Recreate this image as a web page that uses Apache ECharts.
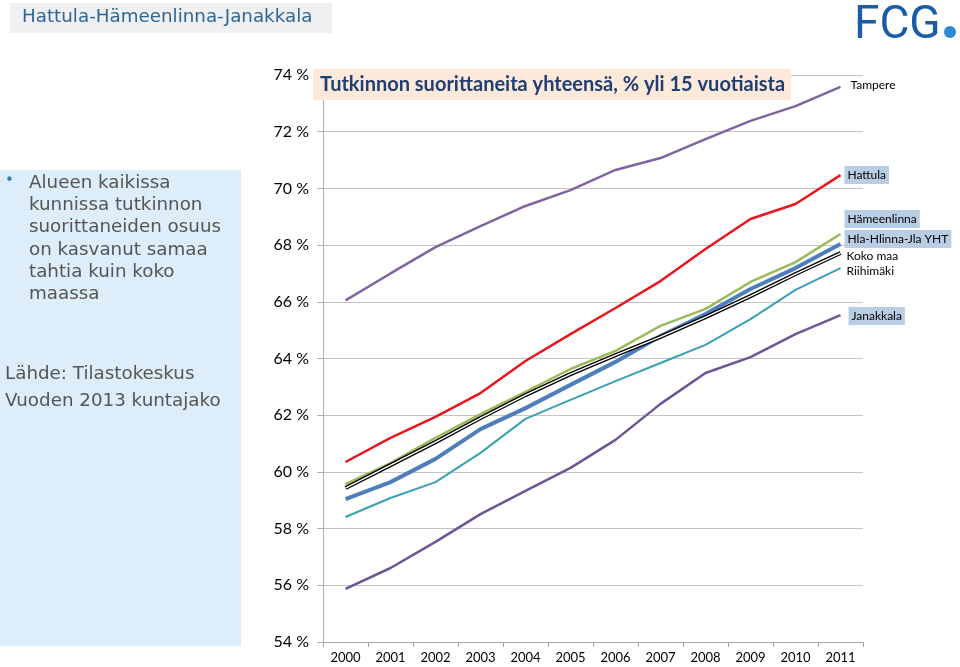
<!DOCTYPE html>
<html>
<head>
<meta charset="utf-8">
<script src="https://cdn.jsdelivr.net/npm/echarts@6/dist/echarts.min.js"></script>
<style>
html,body{margin:0;padding:0;background:#fff;}
#c{width:960px;height:667px;}
</style>
</head>
<body>
<div id="c"></div>
<script>
const years = ['2000','2001','2002','2003','2004','2005','2006','2007','2008','2009','2010','2011'];
const tampere     = [66.05, 67.0, 67.93, 68.67, 69.38, 69.94, 70.65, 71.07, 71.74, 72.38, 72.9, 73.58];
const hattula     = [60.35, 61.2, 61.94, 62.78, 63.91, 64.86, 65.78, 66.73, 67.86, 68.92, 69.45, 70.47];
const hameenlinna = [59.57, 60.31, 61.2, 62.04, 62.82, 63.63, 64.27, 65.15, 65.75, 66.7, 67.4, 68.39];
const hlaYht      = [59.04, 59.64, 60.46, 61.51, 62.25, 63.07, 63.88, 64.79, 65.57, 66.45, 67.19, 68.04];
const kokoMaa     = [59.43, 60.24, 61.05, 61.9, 62.71, 63.45, 64.12, 64.76, 65.46, 66.2, 66.98, 67.72];
const riihimaki   = [58.41, 59.08, 59.64, 60.67, 61.87, 62.54, 63.2, 63.84, 64.48, 65.39, 66.42, 67.19];
const janakkala   = [55.87, 56.61, 57.53, 58.51, 59.33, 60.14, 61.13, 62.4, 63.49, 64.05, 64.86, 65.53];
const yTicks = [54, 56, 58, 60, 62, 64, 66, 68, 70, 72, 74];

const chart = echarts.init(document.getElementById('c'));
const lblFont = 'Lato, "Open Sans", sans-serif';
const txtFont = '"DejaVu Sans", sans-serif';

function endLbl(text, dy, boxed, dx) {
  return {
    show: true,
    formatter: text,
    offset: [dx || 0, dy],
    distance: 4,
    fontFamily: lblFont,
    fontSize: 12,
    color: '#000',
    backgroundColor: boxed ? '#b9cde5' : 'transparent',
    padding: boxed ? [3, 3, 3, 3] : [0, 0, 0, 2]
  };
}

function line(name, data, color, width, lbl, z) {
  return {
    name: name, type: 'line', data: data, symbol: 'none', smooth: false,
    lineStyle: { color: color, width: width }, z: z || 2,
    endLabel: lbl || { show: false },
    emphasis: { disabled: true }, silent: true
  };
}

const leftLines = ['Alueen kaikissa', 'kunnissa tutkinnon', 'suorittaneiden osuus', 'on kasvanut samaa', 'tahtia kuin koko', 'maassa'];
const leftText = leftLines.map((t, i) => ({
  type: 'text', left: 29, top: 174 + i * 22.3,
  style: { text: t, fontFamily: txtFont, fontSize: 18.3, fill: '#555555' }
}));

chart.setOption({
  animation: false,
  grid: { left: 323, right: 97, top: 75, bottom: 25, containLabel: false },
  xAxis: {
    type: 'category', data: years, boundaryGap: true,
    axisLine: { lineStyle: { color: '#a6a6a6', width: 1 } },
    axisTick: { show: true, length: 5, lineStyle: { color: '#a6a6a6' } },
    axisLabel: { fontFamily: lblFont, fontSize: 13, color: '#000', margin: 9 }
  },
  yAxis: {
    type: 'value', min: yTicks[0], max: yTicks[yTicks.length - 1], interval: 2,
    axisLine: { show: true, lineStyle: { color: '#b0b0b0', width: 1 } },
    axisTick: { show: true, length: 6, lineStyle: { color: '#b0b0b0' } },
    splitLine: { show: true, lineStyle: { color: '#c4c4c4', width: 1 } },
    axisLabel: { formatter: '{value} %', fontFamily: lblFont, fontSize: 16, color: '#000', margin: 14 }
  },
  series: [
    line('Tampere', tampere, '#8064a2', 2.5, endLbl('Tampere', -2, false, 4)),
    line('Hattula', hattula, '#e8161d', 2.5, endLbl('Hattula', 0, true, 0)),
    line('Hämeenlinna', hameenlinna, '#9bbb59', 2.5, endLbl('Hämeenlinna', -15, true, 0)),
    line('Hla-Hlinna-Jla YHT', hlaYht, '#4f7fbb', 4, endLbl('Hla-Hlinna-Jla YHT', -5, true, 0)),
    line('Koko maa', kokoMaa, '#000000', 4, endLbl('Koko maa', 3, false, 0), 3),
    line('Koko maa (sisä)', kokoMaa, '#ffffff', 1.4, null, 4),
    line('Riihimäki', riihimaki, '#3aa0b4', 2, endLbl('Riihimäki', 3, false, 0)),
    line('Janakkala', janakkala, '#6f5595', 2.5, endLbl('Janakkala', 1, true, 4))
  ],
  graphic: [
    { type: 'rect', shape: { x: 10, y: 3, width: 322, height: 30 }, style: { fill: '#eff0f1' }, z: 10 },
    { type: 'text', left: 22, top: 8, z: 11,
      style: { text: 'Hattula-Hämeenlinna-Janakkala', fontFamily: txtFont, fontSize: 18.3, fill: '#2f6594' } },
    { type: 'text', left: 854, top: 3, z: 11,
      style: { text: 'FCG', fontFamily: 'Roboto, sans-serif', fontSize: 46, fill: '#1b5ca6' } },
    { type: 'circle', shape: { cx: 950, cy: 32, r: 6 }, style: { fill: '#2b8bd6' }, z: 11 },
    { type: 'rect', shape: { x: 313, y: 69, width: 478, height: 31 }, style: { fill: '#fde9d9' }, z: 10 },
    { type: 'text', left: 320, top: 75, z: 11,
      style: { text: 'Tutkinnon suorittaneita yhteensä, % yli 15 vuotiaista', fontFamily: lblFont, fontWeight: 'bold', fontSize: 20, fill: '#1f3f73' } },
    { type: 'rect', shape: { x: 0, y: 170, width: 241, height: 476 }, style: { fill: '#ddeefa' }, z: 0 },
    { type: 'text', left: 5, top: 174, style: { text: '•', fontFamily: txtFont, fontSize: 15, fill: '#3b7dbb' } },
    ...leftText,
    { type: 'text', left: 5, top: 365, style: { text: 'Lähde: Tilastokeskus', fontFamily: txtFont, fontSize: 18.3, fill: '#555555' } },
    { type: 'text', left: 5, top: 392, style: { text: 'Vuoden 2013 kuntajako', fontFamily: txtFont, fontSize: 18.3, fill: '#555555' } }
  ]
});
</script>
</body>
</html>
